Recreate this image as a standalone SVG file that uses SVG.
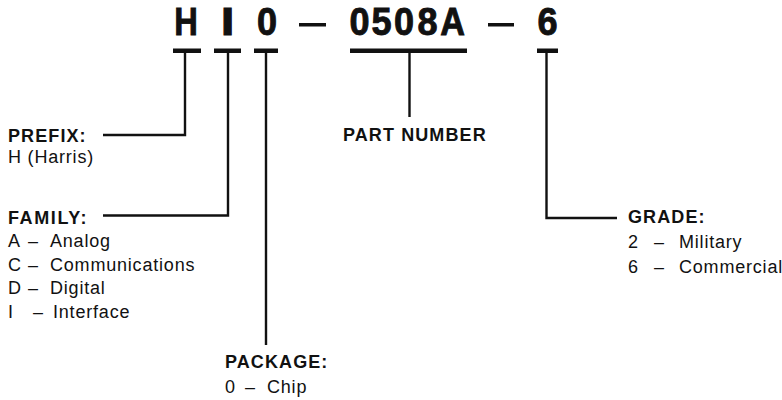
<svg xmlns="http://www.w3.org/2000/svg" width="782" height="400" viewBox="0 0 782 400">
<style>
.big{font-family:"Liberation Sans",Arial,sans-serif;font-weight:bold;font-size:38px;fill:#111;stroke:#111;stroke-width:0.9;text-anchor:middle}
.hd{font-family:"Liberation Sans",Arial,sans-serif;font-weight:bold;font-size:18px;letter-spacing:1.1px;fill:#111}
.tx{font-family:"Liberation Sans",Arial,sans-serif;font-size:18px;letter-spacing:0.8px;fill:#111}
.ln{fill:none;stroke:#111;stroke-width:2.4;stroke-linecap:butt;stroke-linejoin:miter}
.bar{fill:#111}
</style>
<rect width="782" height="400" fill="#fff"/>
<g id="code">
<text class="big" transform="translate(186,35) scale(0.86,1)">H</text>
<text class="big" transform="translate(227.5,35) scale(1.3,1)">I</text>
<text class="big" transform="translate(267,35) scale(0.95,1)">0</text>
<rect class="bar" x="299" y="23" width="27" height="3.5"/>
<text class="big" transform="translate(359.5,35) scale(0.95,1)">0</text>
<text class="big" transform="translate(381.5,35) scale(0.95,1)">5</text>
<text class="big" transform="translate(404,35) scale(0.95,1)">0</text>
<text class="big" transform="translate(427.5,35) scale(0.95,1)">8</text>
<text class="big" transform="translate(452.5,35) scale(0.9,1)">A</text>
<rect class="bar" x="488" y="23" width="26" height="3.5"/>
<text class="big" transform="translate(547.5,35) scale(0.95,1)">6</text>
</g>
<g id="connectors">
<rect class="bar" x="173" y="48.5" width="28" height="4.5"/>
<rect class="bar" x="214" y="48.5" width="27" height="4.5"/>
<rect class="bar" x="254" y="48.5" width="24" height="4.5"/>
<rect class="bar" x="350" y="48.5" width="117" height="4.5"/>
<rect class="bar" x="537" y="48.5" width="21" height="4.5"/>
<polyline class="ln" points="185,53 185,135 103,135"/>
<polyline class="ln" points="228,53 228,215.5 103,215.5"/>
<line class="ln" x1="266" y1="53" x2="266" y2="345"/>
<line class="ln" x1="409.5" y1="53" x2="409.5" y2="117"/>
<polyline class="ln" points="546.5,53 546.5,218 617,218"/>
</g>
<g id="prefix">
<text class="hd" x="8" y="142">PREFIX:</text>
<text class="tx" x="8" y="163">H (Harris)</text>
</g>
<g id="family">
<text class="hd" x="8" y="224" style="letter-spacing:1.6px">FAMILY:</text>
<text class="tx" y="247"><tspan x="8">A</tspan><tspan x="28">–</tspan><tspan x="50">Analog</tspan></text>
<text class="tx" y="271"><tspan x="8">C</tspan><tspan x="28">–</tspan><tspan x="50">Communications</tspan></text>
<text class="tx" y="294"><tspan x="8">D</tspan><tspan x="28">–</tspan><tspan x="50">Digital</tspan></text>
<text class="tx" y="318"><tspan x="8">I</tspan><tspan x="33">–</tspan><tspan x="53">Interface</tspan></text>
</g>
<g id="package">
<text class="hd" x="225" y="368">PACKAGE:</text>
<text class="tx" y="393"><tspan x="225">0</tspan><tspan x="245">–</tspan><tspan x="267">Chip</tspan></text>
</g>
<g id="part-number">
<text class="hd" x="343" y="141">PART NUMBER</text>
</g>
<g id="grade">
<text class="hd" x="628" y="223">GRADE:</text>
<text class="tx" y="248"><tspan x="628">2</tspan><tspan x="654">–</tspan><tspan x="679">Military</tspan></text>
<text class="tx" y="273"><tspan x="628">6</tspan><tspan x="654">–</tspan><tspan x="679">Commercial</tspan></text>
</g>
</svg>
